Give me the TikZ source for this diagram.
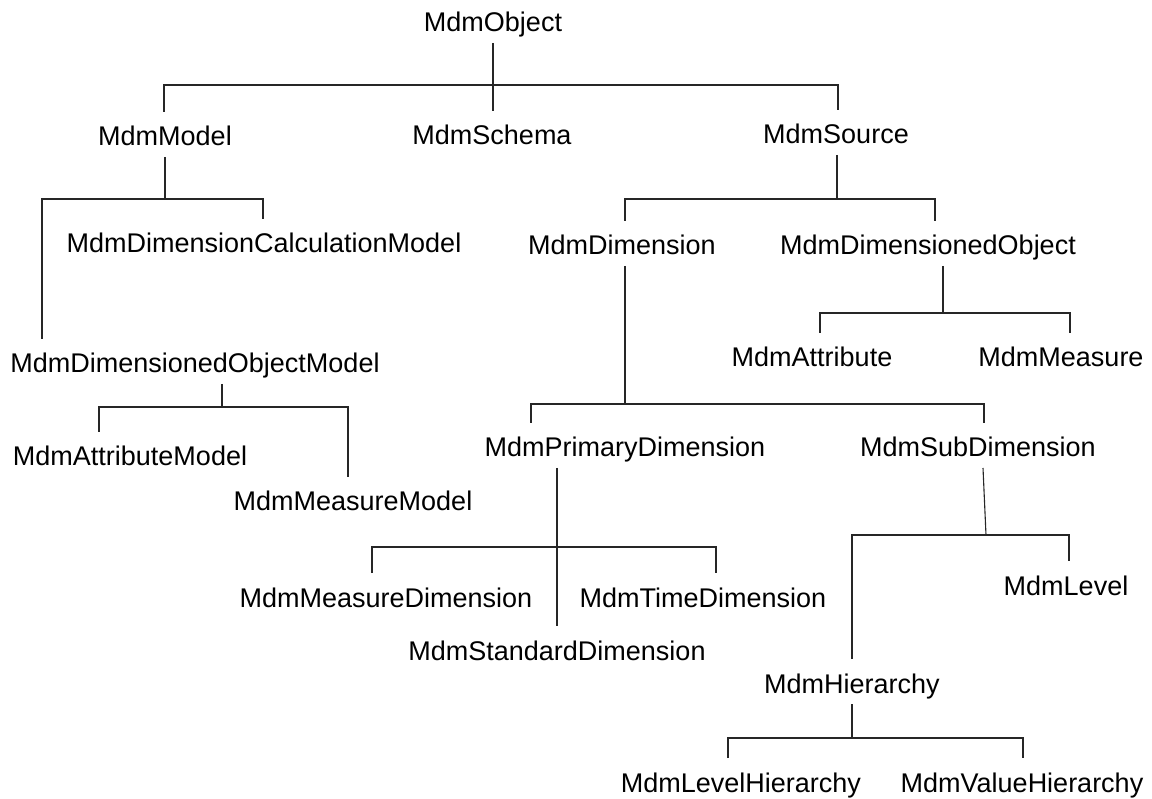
\documentclass[tikz,border=0pt]{standalone}
\usepackage{fontspec}
\setmainfont{Liberation Sans}
\begin{document}
\begin{tikzpicture}[x=1pt,y=1pt,
  lbl/.style={anchor=base,inner sep=0pt,outer xsep=0pt,outer ysep=11pt,
    text height=23pt,text depth=0pt,font=\fontsize{27}{32}\selectfont},
  conn/.style={line width=1.1pt,black!85}]
\useasboundingbox (0,0) rectangle (1152,-799);
% nodes
\node[lbl] (obj) at (493,-32) {MdmObject};
\node[lbl] (mdl) at (165,-146) {MdmModel};
\node[lbl] (sch) at (492,-145) {MdmSchema};
\node[lbl] (src) at (836,-144) {MdmSource};
\node[lbl] (dcm) at (264,-253) {MdmDimensionCalculationModel};
\node[lbl] (dom) at (195,-373) {MdmDimensionedObjectModel};
\node[lbl] (am)  at (130,-466) {MdmAttributeModel};
\node[lbl] (mm)  at (353,-511) {MdmMeasureModel};
\node[lbl] (dim) at (622,-255) {MdmDimension};
\node[lbl] (dob) at (928,-255) {MdmDimensionedObject};
\node[lbl] (att) at (812,-367) {MdmAttribute};
\node[lbl] (mea) at (1061,-367) {MdmMeasure};
\node[lbl] (pri) at (625,-457) {MdmPrimaryDimension};
\node[lbl] (sub) at (978,-457) {MdmSubDimension};
\node[lbl] (md)  at (386,-607) {MdmMeasureDimension};
\node[lbl] (td)  at (703,-607) {MdmTimeDimension};
\node[lbl] (sd)  at (557,-660) {MdmStandardDimension};
\node[lbl] (lv)  at (1066,-595) {MdmLevel};
\node[lbl] (hi)  at (852,-693) {MdmHierarchy};
\node[lbl] (lh)  at (741,-792) {MdmLevelHierarchy};
\node[lbl] (vh)  at (1022,-792) {MdmValueHierarchy};
% bus coordinates
\coordinate (b0L) at (164,-85);  \coordinate (b0R) at (838,-85);
\coordinate (b1L) at (42,-199);  \coordinate (b1R) at (263,-199); \coordinate (b1M) at (165,-199);
\coordinate (b2L) at (99,-407);  \coordinate (b2R) at (348,-407); \coordinate (b2M) at (222,-407);
\coordinate (b3L) at (625,-199); \coordinate (b3R) at (935,-199); \coordinate (b3M) at (837,-199);
\coordinate (b4L) at (820,-313); \coordinate (b4R) at (1070,-313); \coordinate (b4M) at (943,-313);
\coordinate (b5L) at (531,-404); \coordinate (b5R) at (984,-404); \coordinate (b5M) at (625,-404);
\coordinate (b6L) at (372,-547); \coordinate (b6R) at (716,-547);
\coordinate (b7L) at (852,-535); \coordinate (b7R) at (1069,-535); \coordinate (b7M) at (986,-535);
\coordinate (b8L) at (728,-738); \coordinate (b8R) at (1023,-738); \coordinate (b8M) at (852,-738);
% MdmObject
\draw[conn] (obj.south) -- (obj.south |- sch.north);
\draw[conn] (b0L |- mdl.north) -- (b0L) -- (b0R) -- (b0R |- src.north);
% MdmModel
\draw[conn] (b1M |- mdl.south) -- (b1M);
\draw[conn] (b1L |- dom.north) -- (b1L) -- (b1R) -- (b1R |- dcm.north);
% MdmDimensionedObjectModel
\draw[conn] (b2M |- dom.south) -- (b2M);
\draw[conn] (b2L |- am.north) -- (b2L) -- (b2R) -- (b2R |- mm.north);
% MdmSource
\draw[conn] (b3M |- src.south) -- (b3M);
\draw[conn] (b3L |- dim.north) -- (b3L) -- (b3R) -- (b3R |- dob.north);
% MdmDimensionedObject
\draw[conn] (b4M |- dob.south) -- (b4M);
\draw[conn] (b4L |- att.north) -- (b4L) -- (b4R) -- (b4R |- mea.north);
% MdmDimension
\draw[conn] (b5M |- dim.south) -- (b5M);
\draw[conn] (b5L |- pri.north) -- (b5L) -- (b5R) -- (b5R |- sub.north);
% MdmPrimaryDimension
\draw[conn] (sd.north |- pri.south) -- (sd.north);
\draw[conn] (b6L |- md.north) -- (b6L) -- (b6R) -- (b6R |- td.north);
% MdmSubDimension
\draw[conn] ([xshift=5pt]sub.south) -- (b7M);
\draw[conn] (b7L |- hi.north) -- (b7L) -- (b7R) -- (b7R |- lv.north);
% MdmHierarchy
\draw[conn] (b8M |- hi.south) -- (b8M);
\draw[conn] (b8L |- lh.north) -- (b8L) -- (b8R) -- (b8R |- vh.north);
\end{tikzpicture}
\end{document}
